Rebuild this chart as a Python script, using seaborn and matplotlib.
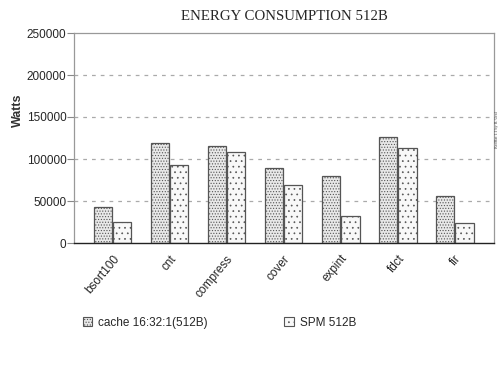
import matplotlib
matplotlib.use("Agg")
import matplotlib.pyplot as plt
import pandas as pd
import seaborn as sns

# values
benchmarks = ["bsort100", "cnt", "compress", "cover", "expint", "fdct", "fir"]
cache_512 = [42500, 118700, 115800, 88900, 79800, 126200, 56300]
spm_512 = [24600, 92900, 108700, 68700, 32100, 112700, 23500]
series_names = ["cache 16:32:1(512B)", "SPM 512B"]
y_ticks = [0, 50000, 100000, 150000, 200000, 250000]

df = pd.DataFrame({
    "benchmark": benchmarks * 2,
    "energy": cache_512 + spm_512,
    "config": [series_names[0]] * len(benchmarks) + [series_names[1]] * len(benchmarks),
})

sns.set_theme(style="white")
plt.rcParams["font.family"] = ["Liberation Sans", "DejaVu Sans"]
plt.rcParams["hatch.linewidth"] = 0.5

fig = plt.figure(figsize=(5.02, 3.72), dpi=100)
ax = fig.add_axes([74 / 502, 1 - 243 / 372, 420 / 502, 210 / 372])

fills = ["#e8e8e8", "#f8f8f8"]
sns.barplot(data=df, x="benchmark", y="energy", hue="config",
            palette=fills, width=0.68, gap=0.05,
            edgecolor="#555555", linewidth=0.9, ax=ax, legend=False)

hatches = ["......", "..."]
for cont, h in zip(ax.containers, hatches):
    for bar in cont:
        bar.set_hatch(h)
        if hasattr(bar, "set_hatchcolor"):
            bar.set_hatchcolor("#8a8a8a")

ax.set_ylim(0, 250000)
ax.set_xlim(-0.675, 6.69)
ax.set_yticks(y_ticks)
ax.set_yticklabels([str(v) for v in y_ticks], fontsize=8.5)
ax.set_xlabel("")
ax.set_ylabel("")
ax.tick_params(axis="y", left=True, length=5, width=0.8, color="#888888", pad=0.5)
ax.tick_params(axis="x", bottom=False, pad=1)
plt.setp(ax.get_xticklabels(), rotation=50, ha="right", rotation_mode="anchor", fontsize=8.5)

for v in y_ticks[1:-1]:
    ax.axhline(v, color="#aaaaaa", linestyle=(0, (3, 4)), linewidth=0.9, zorder=0)

for side in ["left", "top", "right"]:
    ax.spines[side].set_color("#999999")
    ax.spines[side].set_linewidth(0.9)
ax.spines["bottom"].set_color("#222222")
ax.spines["bottom"].set_linewidth(1.0)

fig.text(284 / 502, 1 - 16 / 372, "ENERGY CONSUMPTION 512B", ha="center", va="center",
         fontsize=10.7, family=["Liberation Serif", "DejaVu Serif"])
fig.text(18 / 502, 1 - 110 / 372, "Watts", rotation=90, ha="center", va="center",
         fontsize=9, fontweight="bold", color="#333333")
fig.text(497 / 502, 1 - 130 / 372, "RedHat 1.1 by R. Ural", rotation=90, ha="center",
         va="center", fontsize=3, color="#444444", family=["Liberation Serif", "DejaVu Serif"])

handles = [plt.Rectangle((0, 0), 1, 1, facecolor=c, edgecolor="#555555", hatch=h, linewidth=0.8)
           for c, h in zip(fills, hatches)]
for hd in handles:
    if hasattr(hd, "set_hatchcolor"):
        hd.set_hatchcolor("#8a8a8a")
fig.legend(handles, series_names, ncol=2, loc="center left",
           bbox_to_anchor=(72 / 502, 1 - 323 / 372), frameon=False, fontsize=8.5,
           handlelength=0.8, handleheight=0.8, handletextpad=0.5, columnspacing=6.5)

fig.savefig("out.png", dpi=100)
